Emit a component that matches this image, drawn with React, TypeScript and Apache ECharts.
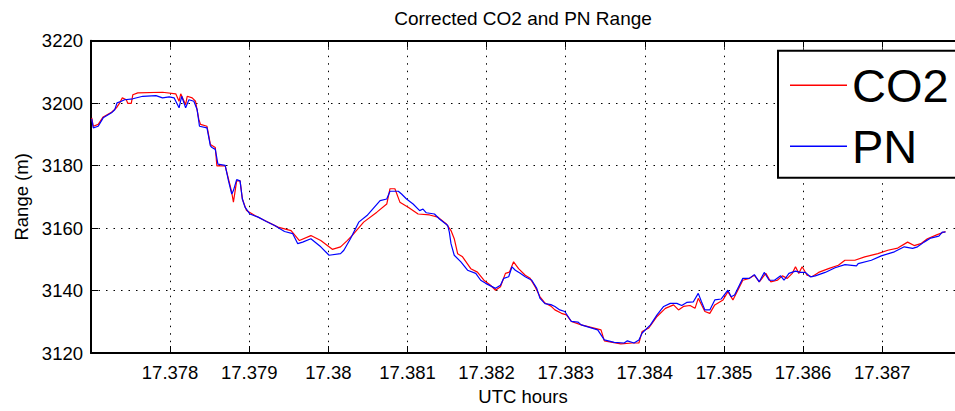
import React, { useEffect, useRef } from "react";
import * as echarts from "echarts";

// UTC hours and corrected range (m)
const co2Time = [
  17.377009, 17.377029, 17.377091, 17.377154, 17.377259, 17.377321, 17.377363, 17.377396, 17.377446, 17.377466,
  17.377509, 17.377529, 17.377591, 17.377904, 17.378071, 17.378113, 17.378134, 17.378196, 17.378216, 17.378279,
  17.378321, 17.378363, 17.378384, 17.378466, 17.378509, 17.378571, 17.378591, 17.378696, 17.378738, 17.378779,
  17.3788, 17.378841, 17.378884, 17.378913, 17.378966, 17.379071, 17.379196, 17.379363, 17.379529, 17.379634,
  17.379779, 17.379904, 17.38005, 17.380154, 17.380238, 17.3803, 17.380446, 17.380613, 17.380738, 17.380779,
  17.380841, 17.380904, 17.381009, 17.381134, 17.381279, 17.381384, 17.381488, 17.38155, 17.381591, 17.381634,
  17.381696, 17.3818, 17.381884, 17.381966, 17.38205, 17.382113, 17.382175, 17.382238, 17.382288, 17.382341,
  17.382404, 17.382488, 17.38255, 17.382613, 17.382675, 17.382738, 17.382813, 17.382863, 17.382946, 17.383009,
  17.383071, 17.383196, 17.383446, 17.383488, 17.383696, 17.383841, 17.383925, 17.383966, 17.38405, 17.384154,
  17.384259, 17.384363, 17.384425, 17.384488, 17.384571, 17.384634, 17.384675, 17.384759, 17.384821, 17.384884,
  17.384988, 17.38505, 17.385113, 17.385175, 17.385238, 17.385321, 17.385384, 17.385446, 17.385529, 17.385591,
  17.385675, 17.385738, 17.3858, 17.385863, 17.385904, 17.385946, 17.385988, 17.38605, 17.386113, 17.386196,
  17.386321, 17.386446, 17.386529, 17.386654, 17.386779, 17.386946, 17.387071, 17.387196, 17.387321, 17.387404,
  17.387488, 17.387571, 17.387696, 17.3878,
];
const co2Range = [
  3195.3, 3192.6, 3193.2, 3195.6, 3197.1, 3198.5, 3200.1, 3201.7, 3201.1, 3199.9,
  3199.9, 3202.7, 3203.3, 3203.5, 3203.0, 3200.6, 3203.0, 3199.5, 3202.2, 3201.7,
  3200.6, 3194.8, 3193.2, 3192.6, 3186.8, 3185.8, 3179.9, 3179.9, 3175.7, 3171.4,
  3168.3, 3175.1, 3175.1, 3169.3, 3165.6, 3164.0, 3162.4, 3160.3, 3159.2, 3156.0,
  3157.6, 3156.0, 3153.2, 3154.0, 3156.0, 3157.6, 3161.9, 3165.1, 3167.7, 3172.6,
  3172.6, 3168.3, 3166.7, 3164.5, 3164.2, 3163.5, 3161.4, 3159.2, 3156.6, 3151.8,
  3150.8, 3147.0, 3145.9, 3143.3, 3141.7, 3140.1, 3141.2, 3145.5, 3145.9, 3149.2,
  3147.0, 3144.9, 3143.9, 3141.2, 3138.0, 3136.0, 3135.0, 3133.8, 3132.7, 3132.2,
  3130.1, 3129.0, 3127.4, 3123.9, 3122.9, 3123.2, 3123.2, 3126.9, 3128.0, 3131.7,
  3134.3, 3135.4, 3133.8, 3134.9, 3135.2, 3134.3, 3137.5, 3133.3, 3132.7, 3135.4,
  3137.0, 3139.6, 3137.0, 3140.1, 3143.3, 3143.9, 3144.9, 3142.8, 3145.5, 3142.8,
  3143.3, 3144.7, 3143.9, 3145.5, 3147.6, 3145.5, 3147.6, 3144.9, 3144.4, 3145.8,
  3147.0, 3148.1, 3149.7, 3149.7, 3150.8, 3151.8, 3152.9, 3153.6, 3155.5, 3154.4,
  3155.0, 3156.6, 3157.9, 3158.9,
];

const pnTime = [
  17.377009, 17.377029, 17.377091, 17.377154, 17.377259, 17.3773, 17.377329, 17.377384, 17.377425, 17.377529,
  17.377654, 17.377821, 17.377904, 17.377988, 17.37805, 17.378113, 17.378146, 17.378196, 17.378238, 17.3783,
  17.378341, 17.378371, 17.378466, 17.378509, 17.378529, 17.378571, 17.378604, 17.378696, 17.378738, 17.378779,
  17.3788, 17.378841, 17.378884, 17.378913, 17.378946, 17.379009, 17.379113, 17.379216, 17.379321, 17.379446,
  17.37955, 17.379613, 17.379675, 17.379779, 17.379904, 17.380009, 17.380154, 17.380196, 17.380279, 17.380384,
  17.380488, 17.380654, 17.380738, 17.380779, 17.380884, 17.380925, 17.380988, 17.381071, 17.381154, 17.381196,
  17.381238, 17.381341, 17.381404, 17.381509, 17.381529, 17.38155, 17.381591, 17.381675, 17.381759, 17.381863,
  17.381925, 17.381988, 17.38205, 17.382113, 17.382175, 17.382216, 17.382279, 17.382321, 17.382363, 17.382425,
  17.382488, 17.382571, 17.382634, 17.382675, 17.382738, 17.382813, 17.382863, 17.382925, 17.382988, 17.383071,
  17.383154, 17.383196, 17.383404, 17.383488, 17.383613, 17.383738, 17.383779, 17.383863, 17.383925, 17.383966,
  17.384071, 17.384154, 17.384238, 17.384321, 17.384404, 17.384466, 17.384529, 17.384613, 17.384675, 17.384716,
  17.384759, 17.384821, 17.384884, 17.384966, 17.38505, 17.385091, 17.385134, 17.385238, 17.385321, 17.385384,
  17.385446, 17.385509, 17.385571, 17.385638, 17.385716, 17.385759, 17.385821, 17.385904, 17.385966, 17.386029,
  17.386091, 17.386154, 17.386279, 17.386404, 17.386529, 17.386675, 17.386696, 17.386863, 17.386988, 17.387154,
  17.387279, 17.387384, 17.387446, 17.387529, 17.387613, 17.387716, 17.387759, 17.3878,
];
const pnRange = [
  3195.0, 3192.1, 3192.6, 3195.3, 3196.9, 3197.9, 3200.1, 3200.6, 3201.1, 3201.4,
  3202.2, 3202.4, 3201.7, 3202.0, 3201.7, 3198.5, 3202.2, 3198.5, 3201.1, 3200.6,
  3198.0, 3192.6, 3192.1, 3186.3, 3185.8, 3185.2, 3180.5, 3180.1, 3175.1, 3170.9,
  3172.0, 3175.5, 3175.1, 3169.3, 3166.7, 3164.5, 3163.5, 3162.1, 3160.8, 3158.9,
  3158.2, 3155.0, 3155.5, 3156.6, 3154.0, 3151.3, 3151.8, 3152.9, 3156.6, 3161.9,
  3164.0, 3168.8, 3169.3, 3171.8, 3171.8, 3170.9, 3169.3, 3167.7, 3165.6, 3166.1,
  3164.9, 3164.5, 3162.9, 3160.8, 3158.7, 3155.0, 3151.3, 3149.2, 3146.5, 3145.5,
  3143.3, 3142.3, 3141.5, 3140.7, 3141.7, 3143.9, 3144.4, 3147.6, 3146.5, 3145.5,
  3144.4, 3143.3, 3140.7, 3137.5, 3135.8, 3135.5, 3134.9, 3133.8, 3133.3, 3130.1,
  3129.9, 3129.0, 3127.4, 3124.2, 3123.4, 3123.2, 3123.9, 3123.2, 3124.2, 3126.4,
  3129.0, 3132.2, 3134.9, 3135.9, 3135.9, 3135.2, 3136.2, 3136.4, 3139.1, 3136.4,
  3133.8, 3133.8, 3137.0, 3137.3, 3140.1, 3138.0, 3138.6, 3143.9, 3143.9, 3145.1,
  3142.8, 3145.8, 3143.3, 3143.3, 3144.7, 3143.3, 3145.5, 3146.2, 3145.8, 3145.8,
  3144.4, 3144.7, 3145.8, 3147.3, 3148.3, 3147.9, 3148.6, 3149.7, 3151.1, 3152.4,
  3154.0, 3153.5, 3154.0, 3155.5, 3156.8, 3157.4, 3158.7, 3158.7,
];

const seriesNames = ["CO2", "PN"];
const seriesColors = ["#ff0000", "#0000ff"];
const titleText = "Corrected CO2 and PN Range";
const xAxisTitle = "UTC hours";
const yAxisTitle = "Range (m)";

const FONT = "'Liberation Sans', Arial, Helvetica, sans-serif";

export default function App() {
  const ref = useRef<HTMLDivElement>(null);
  useEffect(() => {
    if (!ref.current) return;
    const chart = echarts.init(ref.current, null, { renderer: "svg" });
    const zip = (t: number[], v: number[]) => t.map((x, i) => [x, v[i]]);
    const gridLine = { show: true, lineStyle: { color: "#000", width: 1, type: [1.5, 6] as any } };
    chart.setOption({
      animation: false,
      backgroundColor: "#fff",
      grid: { left: 91, top: 40.7, width: 874, height: 314.3, containLabel: false },
      legend: {
        orient: "vertical",
        left: 778,
        top: 50.7,
        padding: [11, 12, 8, 12],
        itemGap: 14,
        itemWidth: 57,
        itemHeight: 1.4,
        icon: "rect",
        backgroundColor: "#fff",
        borderColor: "#000",
        borderWidth: 2,
        borderRadius: 0,
        data: seriesNames.map((n, i) => ({ name: n, icon: "rect", itemStyle: { color: seriesColors[i] } })),
        textStyle: {
          fontFamily: FONT,
          fontSize: 47,
          color: "#000",
        },
      },
      xAxis: [
        {
          type: "value",
          position: "bottom",
          min: 17.377,
          max: 17.38792,
          interval: 0.001,
          name: xAxisTitle,
          nameLocation: "middle",
          nameGap: 34,
          nameTextStyle: { fontFamily: FONT, fontSize: 18.5, color: "#000" },
          axisLine: { show: true, lineStyle: { color: "#000", width: 2 } },
          axisTick: { show: true, inside: true, length: 7, lineStyle: { color: "#000", width: 1 } },
          axisLabel: {
            show: true,
            showMinLabel: false,
            showMaxLabel: false,
            margin: 10,
            fontFamily: FONT,
            fontSize: 18.5,
            color: "#000",
            formatter: (v: number) => String(Number(v.toFixed(3))),
          },
          splitLine: gridLine,
        },
        {
          type: "value",
          position: "top",
          min: 17.377,
          max: 17.38792,
          interval: 0.001,
          name: titleText,
          nameLocation: "middle",
          nameGap: 13,
          nameTextStyle: { fontFamily: FONT, fontSize: 19, color: "#000" },
          axisLine: { show: true, lineStyle: { color: "#000", width: 2 } },
          axisTick: { show: true, inside: true, length: 7, lineStyle: { color: "#000", width: 1 } },
          axisLabel: { show: false },
          splitLine: { show: false },
        },
      ],
      yAxis: {
        type: "value",
        min: 3120,
        max: 3220,
        interval: 20,
        name: yAxisTitle,
        nameLocation: "middle",
        nameRotate: 90,
        nameGap: 58,
        nameTextStyle: { fontFamily: FONT, fontSize: 18.5, color: "#000" },
        axisLine: { show: true, lineStyle: { color: "#000", width: 2 } },
        axisTick: { show: true, inside: true, length: 7, lineStyle: { color: "#000", width: 1 } },
        axisLabel: {
          margin: 8,
          fontFamily: FONT,
          fontSize: 18.5,
          color: "#000",
          formatter: (v: number) => String(v),
        },
        splitLine: gridLine,
      },
      series: seriesNames.map((n, i) => ({
        name: n,
        type: "line",
        xAxisIndex: 0,
        data: i === 0 ? zip(co2Time, co2Range) : zip(pnTime, pnRange),
        showSymbol: false,
        symbol: "none",
        lineStyle: { color: seriesColors[i], width: 1.2 },
        itemStyle: { color: seriesColors[i] },
      })),
    });
    return () => chart.dispose();
  }, []);
  return (
    <div
      ref={ref}
      style={{ position: "absolute", left: 0, top: 0, width: 955, height: 411, background: "#fff" }}
    />
  );
}
